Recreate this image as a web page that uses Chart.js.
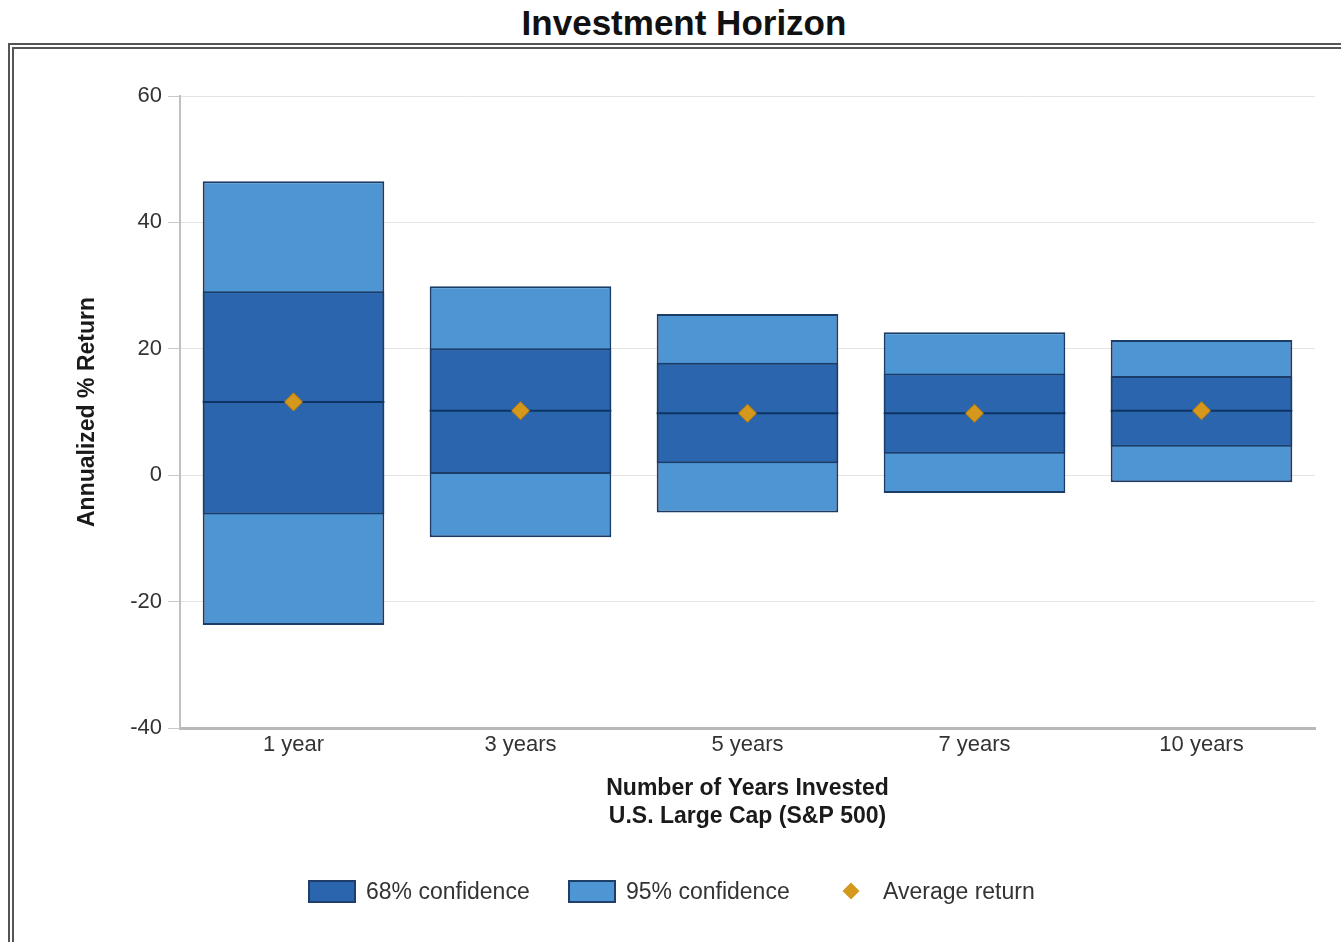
<!DOCTYPE html>
<html>
<head>
<meta charset="utf-8">
<script src="https://cdn.jsdelivr.net/npm/chart.js@4/dist/chart.umd.min.js"></script>
<style>
    body { margin: 0; background: #fff; font-family: "Liberation Sans", Arial, sans-serif; }
    #title {
        position: absolute; left: 0; width: 1368px; top: 3px;
        text-align: center; font-size: 35px; font-weight: bold; color: #111;
    }
    #frame {
        position: absolute; left: 8px; top: 43px; width: 1400px; height: 960px;
        border: 6px double #555; box-sizing: border-box;
    }
    #wrap { position: absolute; left: 0; top: 0; width: 1341px; height: 942px; }
    #legend { font-size: 23px; color: #333; }
    .item { position: absolute; top: 878px; display: flex; align-items: center; height: 26px; }
    .box { width: 44px; height: 19px; border: 2px solid #1f3f6a; margin-right: 10px; }
    .diamond { width: 12px; height: 12px; background: #d09a22; transform: rotate(45deg); margin: 0 26px 0 0; }
</style>
</head>
<body>
<div id="title">Investment Horizon</div>
<div id="frame"></div>
<div id="wrap"><canvas id="chart"></canvas></div>
<div id="legend"></div>
<script>
// Values (annualized % return)
const categories = ['1 year', '3 years', '5 years', '7 years', '10 years'];
const low95 = [-23.7, -9.8, -5.9, -2.8, -1.1];
const high95 = [46.5, 29.9, 25.5, 22.6, 21.4];
const low68 = [-6.2, 0.2, 1.9, 3.4, 4.5];
const high68 = [29.1, 20.1, 17.8, 16.1, 15.7];
const avgReturn = [11.6, 10.2, 9.8, 9.8, 10.2];
const yTicks = [-40, -20, 0, 20, 40, 60];

const seriesNames = ['68% confidence', '95% confidence', 'Average return'];
const DARK = '#2a65ad';
const LIGHT = '#4e95d3';
const EDGE = '#1c3c68';
const GOLD = '#d3981c';

// Draws the average line across each 68% bar
const meanLinePlugin = {
    id: 'meanLine',
    afterDatasetsDraw(chart) {
        const meta = chart.getDatasetMeta(0);
        const y = chart.scales.y;
        const ctx = chart.ctx;
        ctx.save();
        ctx.strokeStyle = '#0d3463';
        ctx.lineWidth = 2;
        meta.data.forEach((bar, i) => {
            const yy = y.getPixelForValue(avgReturn[i]);
            ctx.beginPath();
            ctx.moveTo(bar.x - bar.width / 2, yy);
            ctx.lineTo(bar.x + bar.width / 2, yy);
            ctx.stroke();
        });
        ctx.restore();
        // redraw the diamonds on top of the line
        chart.getDatasetMeta(2).data.forEach(p => p.draw(ctx, chart.chartArea));
    }
};

const chart = new Chart(document.getElementById('chart'), {
    data: {
        labels: categories,
        datasets: [
            {
                type: 'bar',
                label: seriesNames[0],
                data: categories.map((c, i) => [low68[i], high68[i]]),
                backgroundColor: DARK,
                borderColor: EDGE,
                borderWidth: 2,
                borderSkipped: false,
                grouped: false,
                barPercentage: 0.8,
                categoryPercentage: 1,
                order: 1
            },
            {
                type: 'bar',
                label: seriesNames[1],
                data: categories.map((c, i) => [low95[i], high95[i]]),
                backgroundColor: LIGHT,
                borderColor: EDGE,
                borderWidth: 2,
                borderSkipped: false,
                grouped: false,
                barPercentage: 0.8,
                categoryPercentage: 1,
                order: 2
            },
            {
                type: 'line',
                label: seriesNames[2],
                data: avgReturn,
                showLine: false,
                pointStyle: 'rectRot',
                pointRadius: 9,
                pointBackgroundColor: GOLD,
                pointBorderColor: '#a8771a',
                pointBorderWidth: 1,
                order: 0
            }
        ]
    },
    options: {
        responsive: true,
        maintainAspectRatio: false,
        animation: false,
        layout: { padding: { top: 96, right: 26, bottom: 111, left: 0 } },
        plugins: {
            legend: { display: false },
            tooltip: { enabled: false }
        },
        scales: {
            x: {
                grid: { display: false },
                border: { display: true, color: '#b8b8b8', width: 3 },
                ticks: { color: '#333', padding: -4, font: { size: 22, family: 'Liberation Sans' } },
                title: {
                    display: true,
                    text: ['Number of Years Invested', 'U.S. Large Cap (S&P 500)'],
                    color: '#1a1a1a',
                    padding: { top: 0, bottom: 0 },
                    font: { size: 23, weight: 'bold', family: 'Liberation Sans', lineHeight: 1.22 }
                },
                afterFit(scale) { scale.height = 103; }
            },
            y: {
                min: yTicks[0],
                max: yTicks[yTicks.length - 1],
                ticks: { stepSize: 20, color: '#333', padding: 6, font: { size: 22, family: 'Liberation Sans' } },
                grid: { color: '#e4e4e4', tickColor: '#c8c8c8', tickLength: 12 },
                border: { display: true, color: '#c0c0c0', width: 2 },
                title: {
                    display: true,
                    text: 'Annualized % Return',
                    color: '#1a1a1a',
                    padding: { top: 74, bottom: 0 },
                    font: { size: 23, weight: 'bold', family: 'Liberation Sans' }
                },
                afterFit(scale) { scale.width = 180; }
            }
        }
    },
    plugins: [meanLinePlugin]
});

// HTML legend, items placed where the reference puts them
const legend = document.getElementById('legend');
const legendLeft = [308, 568, 845];
[[seriesNames[0], DARK], [seriesNames[1], LIGHT]].forEach(([name, color], i) => {
    const item = document.createElement('div');
    item.className = 'item';
    item.style.left = legendLeft[i] + 'px';
    item.innerHTML = '<span class="box" style="background:' + color + '"></span><span>' + name + '</span>';
    legend.appendChild(item);
});
const avgItem = document.createElement('div');
avgItem.className = 'item';
avgItem.style.left = legendLeft[2] + 'px';
avgItem.innerHTML = '<span class="diamond" style="background:' + GOLD + '"></span><span>' + seriesNames[2] + '</span>';
legend.appendChild(avgItem);
</script>
</body>
</html>
